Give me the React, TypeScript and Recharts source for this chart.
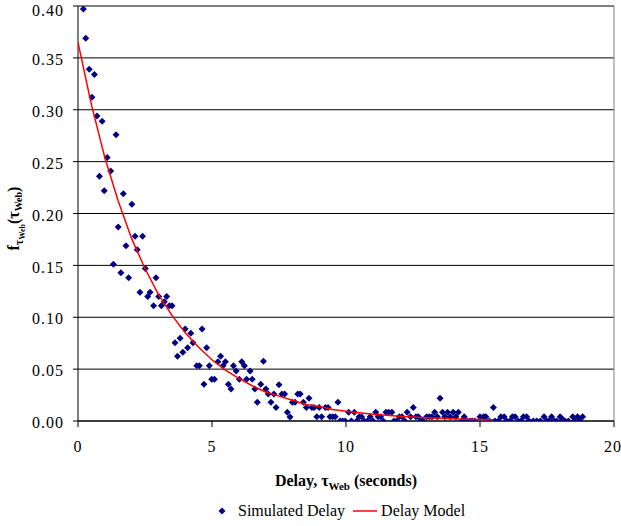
import React from 'react';
import {
  ScatterChart,
  Scatter,
  XAxis,
  YAxis,
  CartesianGrid,
  ReferenceLine,
  Label,
} from 'recharts';

// simulated delay samples
const simX = [
  0.2, 0.29, 0.42, 0.52, 0.61, 0.71, 0.8, 0.9, 0.98, 1.09, 1.22, 1.32, 1.42, 1.5, 1.6, 1.69, 1.79, 1.89,
  2.01, 2.13, 2.21, 2.31, 2.41, 2.51, 2.6, 2.69, 2.82, 2.91, 3.01, 3.11, 3.22, 3.31, 3.41, 3.51, 3.62,
  3.71, 3.81, 3.91, 4.0, 4.09, 4.21, 4.29, 4.43, 4.53, 4.63, 4.7, 4.8, 4.9, 4.99, 5.09, 5.22, 5.32, 5.41,
  5.5, 5.61, 5.71, 5.8, 5.9, 6.02, 6.11, 6.21, 6.29, 6.42, 6.5, 6.6, 6.69, 6.82, 6.92, 7.01, 7.1, 7.2,
  7.31, 7.39, 7.5, 7.61, 7.71, 7.81, 7.91, 8.0, 8.1, 8.2, 8.29, 8.41, 8.52, 8.62, 8.73, 8.81, 8.91, 9.0,
  9.09, 9.23, 9.33, 9.4, 9.5, 9.6, 9.7, 9.78, 9.88, 9.97, 10.1, 10.2, 10.31, 10.4, 10.49, 10.58, 10.68,
  10.8, 10.9, 11.01, 11.11, 11.2, 11.29, 11.39, 11.49, 11.59, 11.71, 11.79, 11.89, 11.99, 12.09, 12.19,
  12.28, 12.41, 12.51, 12.61, 12.7, 12.8, 12.88, 13.01, 13.11, 13.21, 13.31, 13.41, 13.51, 13.6, 13.69,
  13.79, 13.89, 14.0, 14.1, 14.19, 14.32, 14.41, 14.52, 14.63, 14.71, 14.81, 15.0, 15.13, 15.22, 15.35,
  15.5, 15.56, 15.68, 15.78, 15.9, 16.0, 16.12, 16.21, 16.31, 16.43, 16.53, 16.62, 16.74, 16.83, 16.99,
  17.12, 17.25, 17.39, 17.49, 17.57, 17.67, 17.77, 17.86, 17.99, 18.07, 18.17, 18.3, 18.46, 18.54, 18.64,
  18.73, 18.83,
];
const simY = [
  0.397, 0.369, 0.339, 0.312, 0.334, 0.294, 0.236, 0.289, 0.222, 0.254, 0.241, 0.151, 0.276, 0.187, 0.143,
  0.219, 0.169, 0.138, 0.209, 0.178, 0.165, 0.124, 0.178, 0.147, 0.12, 0.124, 0.111, 0.138, 0.12, 0.111,
  0.115, 0.12, 0.111, 0.111, 0.0755, 0.0624, 0.0797, 0.0662, 0.0887, 0.0707, 0.0845, 0.0755, 0.0533,
  0.0533, 0.0887, 0.0354, 0.0707, 0.0533, 0.0402, 0.0402, 0.0572, 0.0624, 0.0533, 0.0572, 0.0354, 0.0308,
  0.0533, 0.0482, 0.0402, 0.0572, 0.0533, 0.0402, 0.0482, 0.0402, 0.0308, 0.018, 0.0354, 0.0575, 0.0308,
  0.026, 0.018, 0.026, 0.013, 0.035, 0.026, 0.026, 0.0084, 0.0039, 0.018, 0.018, 0.026, 0.026, 0.018, 0.013,
  0.022, 0.013, 0.013, 0.004, 0.013, 0.004, 0.013, 0.013, 0.004, 0.004, 0.004, 0.018, 0, 0, 0, 0.0084, 0,
  0.0084, 0, 0.004, 0.004, 0, 0, 0.004, 0, 0.0084, 0.004, 0.004, 0, 0.0084, 0.0084, 0.0084, 0, 0, 0.004,
  0.004, 0, 0.0084, 0.004, 0.013, 0.004, 0.004, 0, 0, 0.004, 0.004, 0.004, 0.0084, 0.004, 0.022, 0.0084,
  0.004, 0.0084, 0.004, 0.0084, 0.004, 0.0084, 0, 0.004, 0, 0, 0, 0, 0.004, 0.004, 0.004, 0, 0.013, 0, 0,
  0.004, 0.004, 0, 0, 0.004, 0.004, 0, 0, 0.004, 0.004, 0, 0, 0, 0, 0.004, 0, 0, 0.004, 0, 0, 0.004, 0.002,
  0, 0, 0.004, 0, 0.004, 0, 0.004,
];

// delay model curve
const modelX = [0, 0.5, 1, 1.5, 2, 2.5, 3, 3.5, 4, 4.5, 5, 5.5, 6, 6.5, 7, 7.5, 8, 8.5, 9, 9.5, 10, 10.5, 11, 11.5, 12, 12.5, 13, 13.5, 14, 14.5, 15, 15.5];
const modelY = [
  0.365, 0.305, 0.254, 0.212, 0.176, 0.147, 0.122, 0.102, 0.085, 0.071, 0.059, 0.049, 0.041, 0.034, 0.028,
  0.024, 0.02, 0.016, 0.014, 0.011, 0.0095, 0.008, 0.0066, 0.0055, 0.0046, 0.0038, 0.0032, 0.0026, 0.0022,
  0.0018, 0.0015, 0.0013,
];

const xTicks = [0, 5, 10, 15, 20];
const yTicks = [0, 0.05, 0.1, 0.15, 0.2, 0.25, 0.3, 0.35, 0.4];

const simData = simX.map((x, i) => ({ x, y: simY[i] }));
const modelData = modelX.map((x, i) => ({ x, y: modelY[i] }));

const FONT = 'Liberation Serif, serif';
const tickText = { fontFamily: FONT, fontSize: 16, letterSpacing: 1 };

const Diamond = (props: any) => {
  const { cx, cy } = props;
  if (cx == null || cy == null) return <g />;
  const r = 3.5;
  return <path d={`M${cx},${cy - r}L${cx + r},${cy}L${cx},${cy + r}L${cx - r},${cy}Z`} fill="#000080" />;
};

const XTick = (props: any) => (
  <text x={props.x} y={props.y} dy="0.71em" textAnchor="middle" style={tickText} fill="#000">
    {props.payload.value}
  </text>
);

const YTick = (props: any) => (
  <text x={props.x} y={props.y} dy="0.45em" textAnchor="end" style={tickText} fill="#000">
    {Number(props.payload.value).toFixed(2)}
  </text>
);

const XTitle = (props: any) => {
  const vb = props.viewBox || {};
  const cx = vb.x + vb.width / 2;
  return (
    <text x={cx} y={vb.y + 65} textAnchor="middle" style={{ fontFamily: FONT }} fontSize={16} fontWeight="bold" fill="#000">
      Delay, τ<tspan fontSize={11} dy={4}>Web</tspan>
      <tspan dy={-4}> (seconds)</tspan>
    </text>
  );
};

const YTitle = (props: any) => {
  const vb = props.viewBox || {};
  const cx = 19;
  const cy = vb.y + vb.height / 2 + 5;
  return (
    <text
      x={cx}
      y={cy}
      transform={`rotate(-90, ${cx}, ${cy})`}
      textAnchor="middle"
      style={{ fontFamily: FONT }}
      fontSize={16}
      fontWeight="bold"
      fill="#000"
    >
      f<tspan fontSize={12} dy={4}>τ</tspan>
      <tspan fontSize={8} dy={2}>Web</tspan>
      <tspan fontSize={16} dy={-6}>(τ</tspan>
      <tspan fontSize={10} dy={3}>Web</tspan>
      <tspan fontSize={16} dy={-3}>)</tspan>
    </text>
  );
};

export default function App() {
  return (
    <div style={{ position: 'absolute', left: 0, top: 0, width: 621, height: 526, background: '#fff', fontFamily: FONT }}>
      <ScatterChart width={621} height={526} margin={{ top: 6, right: 7, bottom: 75, left: 0 }}>
        <CartesianGrid vertical={false} stroke="#000" strokeWidth={1} />
        <XAxis
          type="number"
          dataKey="x"
          domain={[0, 20]}
          ticks={xTicks}
          height={30}
          tickSize={6}
          tickMargin={14}
          stroke="#000"
          tick={<XTick />}
          allowDataOverflow
        >
          <Label content={<XTitle />} />
        </XAxis>
        <YAxis
          type="number"
          dataKey="y"
          domain={[0, 0.4]}
          ticks={yTicks}
          width={78}
          tickSize={5}
          tickMargin={9}
          stroke="#000"
          tick={<YTick />}
          allowDataOverflow
        >
          <Label content={<YTitle />} />
        </YAxis>
        <ReferenceLine y={0.4} stroke="#808080" />
        <ReferenceLine x={20} stroke="#808080" />
        <Scatter data={simData} fill="#000080" shape={<Diamond />} isAnimationActive={false} />
        <Scatter
          data={modelData}
          line={{ stroke: '#FF0000', strokeWidth: 1.5 }}
          lineType="joint"
          shape={() => <g />}
          isAnimationActive={false}
        />
      </ScatterChart>
      <div
        style={{
          position: 'absolute',
          left: 218,
          top: 502,
          display: 'flex',
          alignItems: 'center',
          fontSize: 16,
          lineHeight: '18px',
          color: '#000',
          whiteSpace: 'nowrap',
        }}
      >
        <svg width={8} height={8} style={{ marginRight: 12 }}>
          <path d="M4,0.5L7.5,4L4,7.5L0.5,4Z" fill="#000080" />
        </svg>
        <span>Simulated Delay</span>
        <svg width={24} height={4} style={{ marginLeft: 8, marginRight: 4 }}>
          <line x1={0} y1={2} x2={24} y2={2} stroke="#FF0000" strokeWidth={1.5} />
        </svg>
        <span>Delay Model</span>
      </div>
    </div>
  );
}
